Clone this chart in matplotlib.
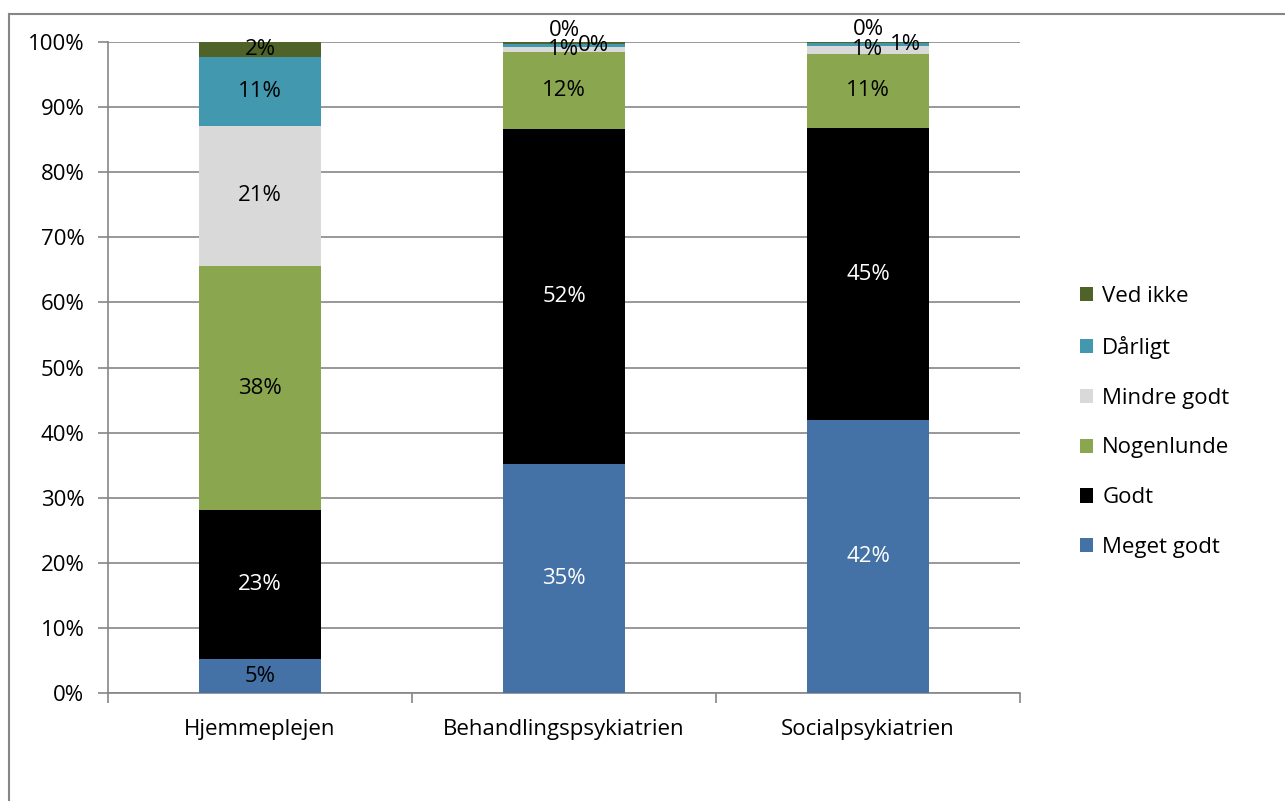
import numpy as np
import matplotlib
matplotlib.use("Agg")
from matplotlib import pyplot as plt
from matplotlib.patches import Patch
from matplotlib.lines import Line2D

plt.rcParams["font.family"] = ["Open Sans", "DejaVu Sans"]

categories = ["Hjemmeplejen", "Behandlingspsykiatrien", "Socialpsykiatrien"]
series_names = ["Meget godt", "Godt", "Nogenlunde", "Mindre godt", "Dårligt", "Ved ikke"]

meget_godt = [5.2, 35.2, 41.9]
godt = [22.9, 51.4, 44.9]
nogenlunde = [37.5, 11.9, 11.4]
mindre_godt = [21.5, 0.8, 1.2]
daarligt = [10.6, 0.4, 0.5]
ved_ikke = [2.3, 0.3, 0.1]

labels = [
    ["5%", "35%", "42%"],
    ["23%", "52%", "45%"],
    ["38%", "12%", "11%"],
    ["21%", "1%", "1%"],
    ["11%", "0%", "1%"],
    ["2%", "0%", "0%"],
]

colors = ["#4472A6", "#000000", "#8AA64F", "#D9D9D9", "#4298AF", "#4F6228"]
text_colors = ["black", "white", "black", "black", "black", "black"]

series = [meget_godt, godt, nogenlunde, mindre_godt, daarligt, ved_ikke]

FS = 16

fig = plt.figure(figsize=(12.85, 8.01), dpi=100)
ax = fig.add_axes([108 / 1285, 1 - 693 / 801, 912 / 1285, 651 / 801])

x = np.arange(len(categories))
bottom = np.zeros(len(categories))
for i, vals in enumerate(series):
    vals = np.array(vals)
    ax.bar(x, vals, bottom=bottom, width=0.4, color=colors[i], zorder=3)
    for j in range(len(categories)):
        cy = bottom[j] + vals[j] / 2
        dx, dy = 0, 0
        if vals[j] < 1.5:
            # tiny segments: labels pushed aside like Excel does
            if i == 4:
                dx = 21 if j == 1 else 27
            elif i == 5:
                dy = 9
        c = "white" if (i == 0 and j > 0) else text_colors[i]
        ax.annotate(labels[i][j], (x[j], cy), xytext=(dx, dy), textcoords="offset points",
                    ha="center", va="center", fontsize=FS, color=c, zorder=5)
    bottom += vals

ax.set_xlim(-0.5, 2.5)
ax.set_ylim(0, 100)
ax.set_yticks(np.arange(0, 101, 10))
ax.set_yticklabels([f"{v}%" for v in range(0, 101, 10)], fontsize=FS)
ax.yaxis.grid(True, color="#868686", linewidth=1.2, zorder=0)
ax.set_xticks(x)
ax.set_xticklabels(categories, fontsize=FS)
ax.tick_params(axis="x", length=0, pad=19)
ax.set_xticks([-0.5, 0.5, 1.5, 2.5], minor=True)
ax.tick_params(axis="x", which="minor", length=7, color="#868686", width=1.2)
ax.tick_params(axis="y", length=7, color="#868686", width=1.2, pad=10)
for side in ["top", "right"]:
    ax.spines[side].set_visible(False)
for side in ["left", "bottom"]:
    ax.spines[side].set_color("#868686")
    ax.spines[side].set_linewidth(1.2)

# outer chart border
fig.add_artist(Line2D([9 / 1285, 9 / 1285], [0, 1 - 14 / 801], color="#868686", linewidth=1.5,
                      transform=fig.transFigure))
fig.add_artist(Line2D([9 / 1285, 1], [1 - 14 / 801, 1 - 14 / 801], color="#868686", linewidth=1.5,
                      transform=fig.transFigure))

handles = [Patch(facecolor=colors[i], edgecolor="none") for i in range(len(series))][::-1]
fig.legend(handles, series_names[::-1], loc="center left", bbox_to_anchor=(1060 / 1285, 1 - 422 / 801),
           frameon=False, fontsize=FS, labelspacing=1.3, handlelength=0.6, handleheight=0.6,
           handletextpad=0.4)

fig.savefig("out.png", dpi=100)
